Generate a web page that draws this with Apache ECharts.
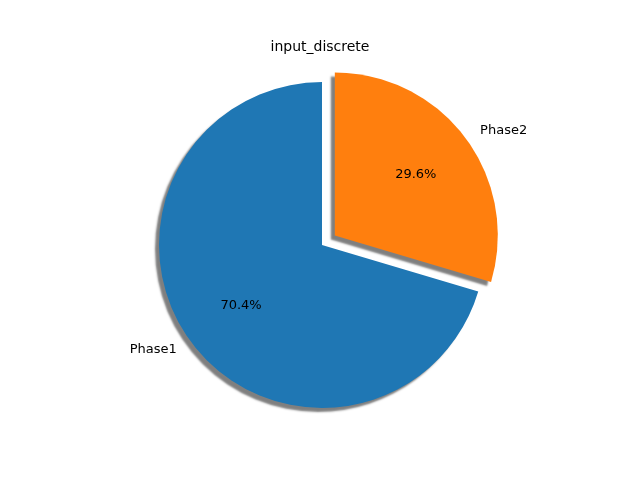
<!DOCTYPE html>
<html>
<head>
<meta charset="utf-8">
<script src="https://cdn.jsdelivr.net/npm/echarts@6/dist/echarts.min.js"></script>
<style>html,body{margin:0;padding:0;background:#fff}#c{width:640px;height:480px}</style>
</head>
<body>
<div id="c"></div>
<script>
var names = ['Phase1', 'Phase2'];
var values = [70.4, 29.6];
var colors = ['#1f77b4', '#ff7f0e'];

var myChart = echarts.init(document.getElementById('c'));
var data = names.map(function (n, i) {
    return { name: n, value: values[i], selected: i === 1, itemStyle: { color: colors[i] } };
});
var font = 'DejaVu Sans';
var option = {
    animation: false,
    title: {
        text: 'input_discrete', left: 'center', top: 35,
        textStyle: { fontFamily: font, fontSize: 14, fontWeight: 'normal', color: '#000' }
    },
    series: [
        {
            type: 'pie',
            center: [322, 245],
            radius: 163,
            startAngle: 90,
            clockwise: false,
            selectedMode: 'single',
            selectedOffset: 16,
            silent: true,
            itemStyle: {
                shadowBlur: 2, shadowColor: 'rgba(0,0,0,0.5)',
                shadowOffsetX: -4, shadowOffsetY: 4
            },
            label: { position: 'outside', fontFamily: font, fontSize: 13, color: '#000' },
            labelLine: { show: false, length: 12, length2: 0 },
            data: data
        },
        {
            type: 'pie',
            center: [322, 245],
            radius: 196,
            startAngle: 90,
            clockwise: false,
            selectedMode: 'single',
            selectedOffset: 16,
            silent: true,
            itemStyle: { color: 'rgba(0,0,0,0)' },
            label: {
                position: 'inside', fontFamily: font, fontSize: 13, color: '#000',
                formatter: function (p) { return p.value.toFixed(1) + '%'; }
            },
            data: names.map(function (n, i) {
                return { name: n, value: values[i], selected: i === 1 };
            })
        }
    ]
};
option && myChart.setOption(option);
</script>
</body>
</html>
